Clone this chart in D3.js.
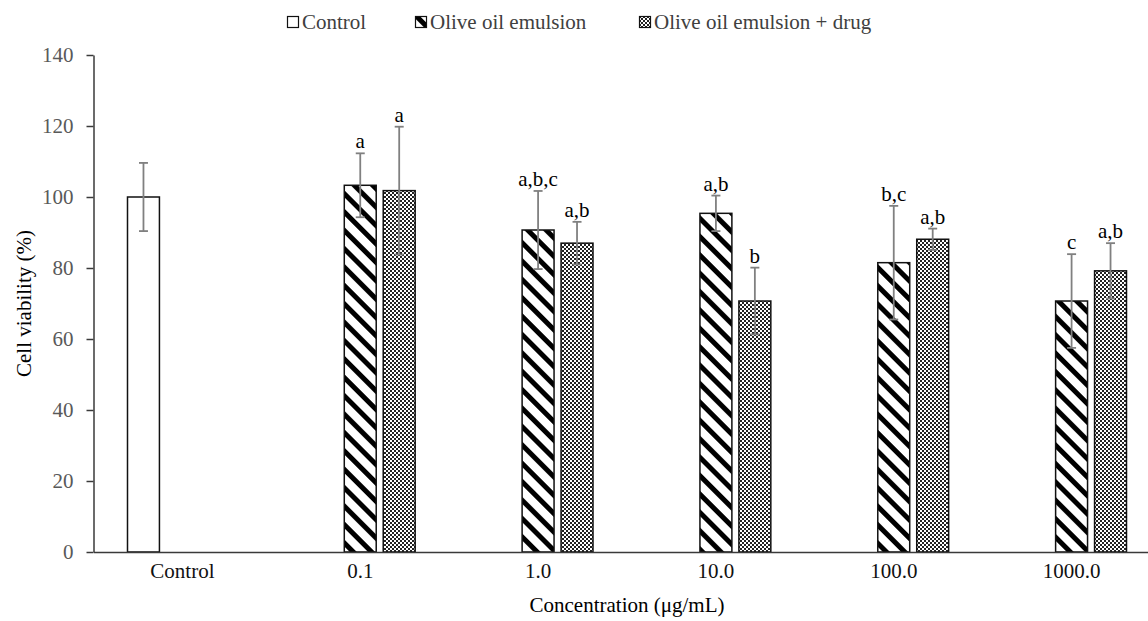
<!DOCTYPE html>
<html>
<head>
<meta charset="utf-8">
<script src="https://cdn.jsdelivr.net/npm/d3@7"></script>
<style>
  body { margin: 0; background: #fff; }
  svg { display: block; overflow: hidden; }
  text { font-family: 'Liberation Serif', 'Times New Roman', serif; }
</style>
</head>
<body>
<div id="chart"></div>
<script>
let categories = ['Control', '0.1', '1.0', '10.0', '100.0', '1000.0']
let seriesNames = ['Control', 'Olive oil emulsion', 'Olive oil emulsion + drug']

let controlValues = [100, null, null, null, null, null]
let controlErrors = [9.6, null, null, null, null, null]
let emulsionValues = [null, 103.3, 90.7, 95.4, 81.5, 70.7]
let emulsionErrors = [null, 9.0, 11.0, 5.0, 16.0, 13.2]
let drugValues = [null, 101.8, 87.0, 70.7, 88.1, 79.2]
let drugErrors = [null, 18.0, 6.0, 9.4, 3.0, 7.8]
let emulsionLetters = ['', 'a', 'a,b,c', 'a,b', 'b,c', 'c']
let drugLetters = ['', 'a', 'a,b', 'b', 'a,b', 'a,b']
let yTicks = [0, 20, 40, 60, 80, 100, 120, 140]

let width = 1148
let height = 621
let margin = { top: 55, left: 93.5, bottom: 69 }
let plotWidth = 1067

let svg = d3.select('#chart')
  .append('svg')
  .attr('width', width)
  .attr('height', height)

let defs = svg.append('defs')

let hatch = defs.append('pattern')
  .attr('id', 'hatch')
  .attr('patternUnits', 'userSpaceOnUse')
  .attr('width', 13)
  .attr('height', 13)
  .attr('patternTransform', 'rotate(-45)')
hatch.append('rect').attr('width', 13).attr('height', 13).attr('fill', '#fff')
hatch.append('rect').attr('width', 5).attr('height', 13).attr('fill', '#000')

let dots = defs.append('pattern')
  .attr('id', 'dots')
  .attr('patternUnits', 'userSpaceOnUse')
  .attr('width', 4)
  .attr('height', 4)
dots.append('rect').attr('width', 4).attr('height', 4).attr('fill', '#fff')
dots.append('rect').attr('width', 2).attr('height', 2).attr('fill', '#222')
dots.append('rect').attr('x', 2).attr('y', 2).attr('width', 2).attr('height', 2).attr('fill', '#222')

let fills = ['#fff', 'url(#hatch)', 'url(#dots)']

let x = d3.scaleBand()
  .domain(categories)
  .range([margin.left, margin.left + plotWidth])
  .paddingInner(0)

let xSub = d3.scaleBand()
  .domain([0, 1, 2])
  .range([34, x.bandwidth() - 34])
  .paddingInner(0.18)

let y = d3.scaleLinear()
  .domain([0, 140])
  .range([height - margin.bottom, margin.top])

// flatten into bars
let bars = []
let seriesData = [
  [controlValues, controlErrors, categories.map(() => '')],
  [emulsionValues, emulsionErrors, emulsionLetters],
  [drugValues, drugErrors, drugLetters]
]
seriesData.forEach(([vals, errs, letters], s) => {
  vals.forEach((v, i) => {
    if (v == null) return
    bars.push({ cat: categories[i], s: s, value: v, err: errs[i], letter: letters[i] })
  })
})

let g = svg.append('g')

g.selectAll('.bar')
  .data(bars)
  .enter()
  .append('rect')
  .attr('class', 'bar')
  .attr('x', d => x(d.cat) + xSub(d.s))
  .attr('width', xSub.bandwidth())
  .attr('y', d => y(d.value))
  .attr('height', d => y(0) - y(d.value))
  .attr('fill', d => fills[d.s])
  .attr('stroke', '#111')
  .attr('stroke-width', 1.5)

// error bars
let eb = g.selectAll('.err')
  .data(bars)
  .enter()
  .append('g')
  .attr('class', 'err')
  .attr('stroke', '#808080')
  .attr('stroke-width', 1.8)
  .attr('transform', d => `translate(${x(d.cat) + xSub(d.s) + xSub.bandwidth() / 2},0)`)

eb.append('line')
  .attr('y1', d => y(d.value + d.err))
  .attr('y2', d => y(d.value - d.err))
eb.append('line')
  .attr('x1', -4.5).attr('x2', 4.5)
  .attr('y1', d => y(d.value + d.err))
  .attr('y2', d => y(d.value + d.err))
eb.append('line')
  .attr('x1', -4.5).attr('x2', 4.5)
  .attr('y1', d => y(d.value - d.err))
  .attr('y2', d => y(d.value - d.err))

// significance letters
g.selectAll('.letter')
  .data(bars.filter(d => d.letter))
  .enter()
  .append('text')
  .attr('class', 'letter')
  .attr('x', d => x(d.cat) + xSub(d.s) + xSub.bandwidth() / 2)
  .attr('y', d => y(d.value + d.err) - 5)
  .attr('text-anchor', 'middle')
  .attr('font-size', 21)
  .attr('fill', '#000')
  .text(d => d.letter)

// y axis
let yAxis = g.append('g')
  .attr('transform', `translate(${margin.left},0)`)
  .call(d3.axisLeft(y).tickValues(yTicks).tickSize(7).tickSizeOuter(0).tickPadding(13))
yAxis.select('.domain').attr('stroke', '#3a3a3a').attr('stroke-width', 1.5)
yAxis.selectAll('.tick line').attr('stroke', '#3a3a3a').attr('stroke-width', 1.5)
yAxis.selectAll('.tick text')
  .attr('font-size', 21)
  .attr('fill', '#595959')
  .style('font-family', "'Liberation Serif', serif")

// x axis
let xAxis = g.append('g')
  .attr('transform', `translate(0,${y(0)})`)
  .call(d3.axisBottom(x).tickSize(0).tickSizeOuter(0).tickPadding(11))
xAxis.select('.domain').attr('stroke', '#3a3a3a').attr('stroke-width', 1.5)
xAxis.selectAll('.tick text')
  .attr('font-size', 21)
  .attr('fill', '#111')
  .style('font-family', "'Liberation Serif', serif")

// axis titles
svg.append('text')
  .attr('transform', `translate(24,${(y(0) + y(140)) / 2}) rotate(-90)`)
  .attr('text-anchor', 'middle')
  .attr('dy', '0.35em')
  .attr('font-size', 21)
  .attr('fill', '#000')
  .text('Cell viability (%)')

svg.append('text')
  .attr('x', margin.left + plotWidth / 2)
  .attr('y', 612)
  .attr('text-anchor', 'middle')
  .attr('font-size', 21)
  .attr('fill', '#000')
  .text('Concentration (μg/mL)')

// legend
let legendX = [287, 415, 639]
let legend = svg.selectAll('.legend')
  .data(seriesNames)
  .enter()
  .append('g')
  .attr('class', 'legend')
  .attr('transform', (d, i) => `translate(${legendX[i]},0)`)

legend.append('rect')
  .attr('x', 0.5)
  .attr('y', 16.5)
  .attr('width', 11)
  .attr('height', 11)
  .attr('fill', (d, i) => fills[i])
  .attr('stroke', '#111')
  .attr('stroke-width', 1.2)

legend.append('text')
  .attr('x', 15)
  .attr('y', 29)
  .attr('font-size', 21)
  .attr('fill', '#404040')
  .text(d => d)
</script>
</body>
</html>
